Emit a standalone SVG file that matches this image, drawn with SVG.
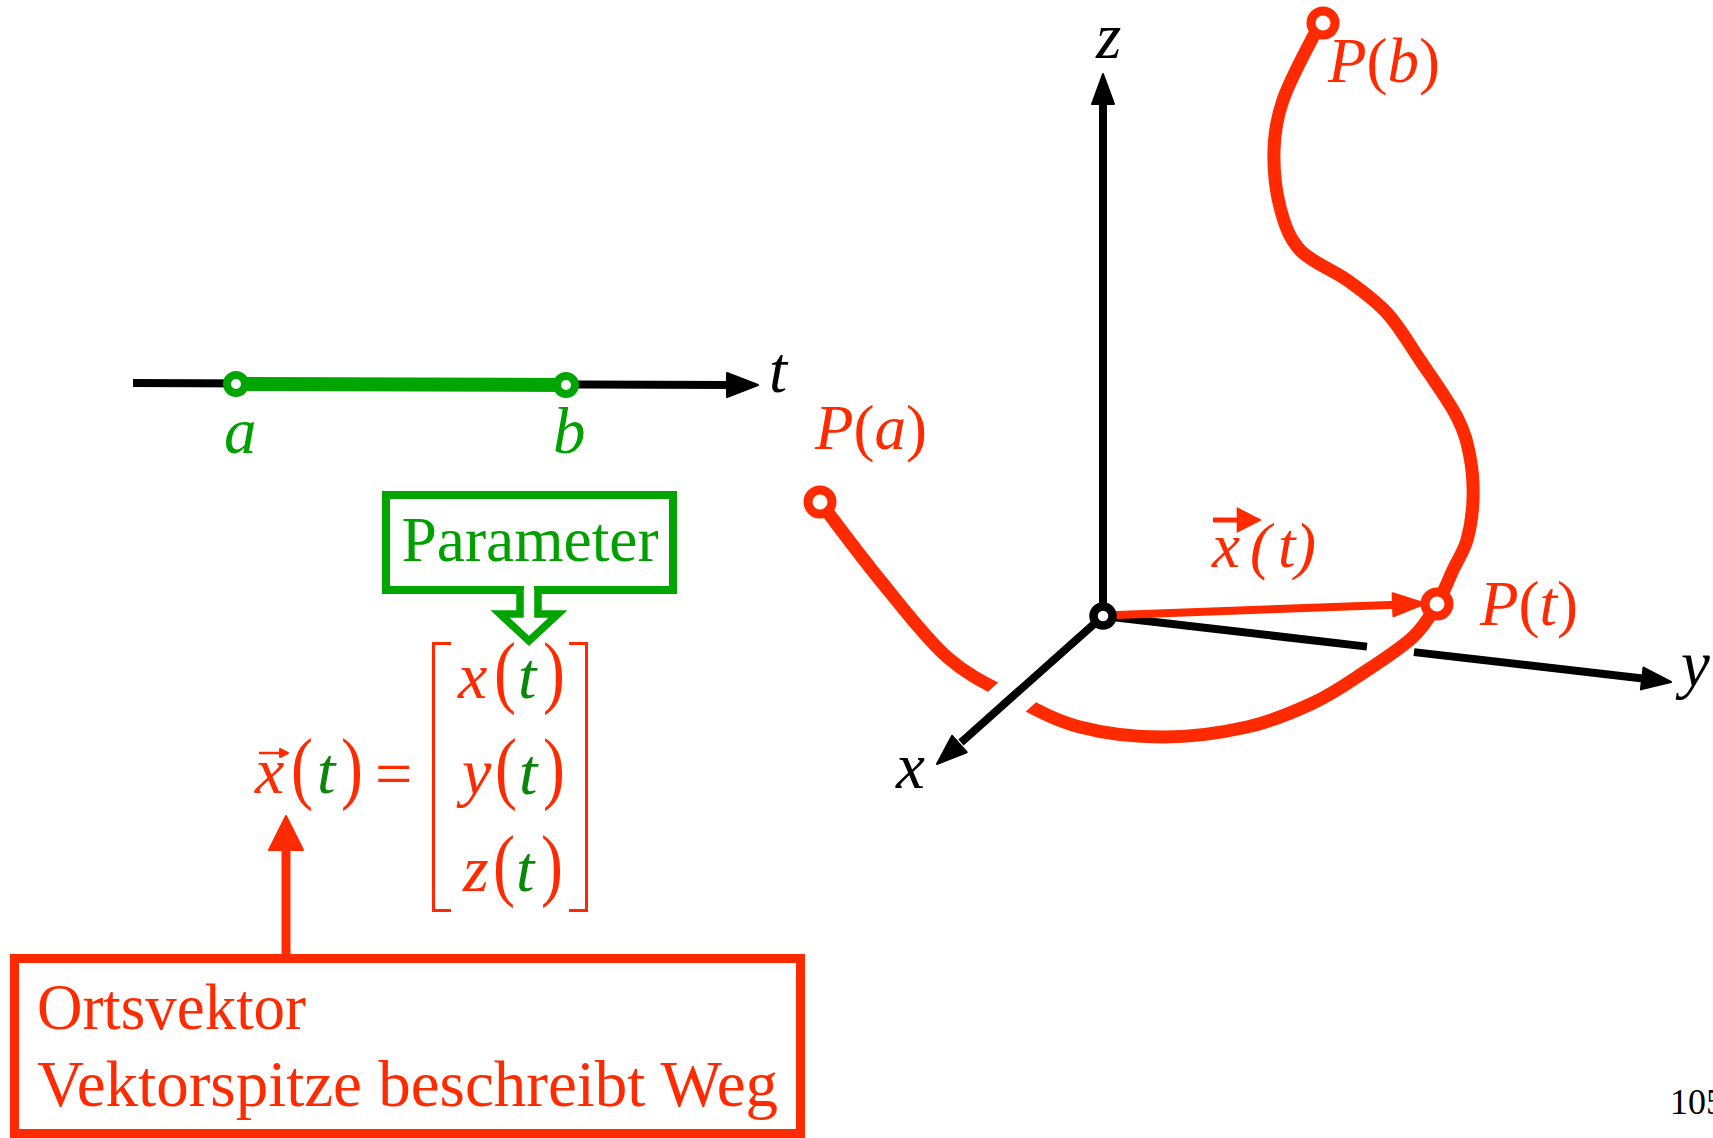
<svg xmlns="http://www.w3.org/2000/svg" width="1713" height="1138" viewBox="0 0 1713 1138">
<style>
text { font-family: "Liberation Serif", "Times New Roman", serif; }
.r { fill: #FF2A00; }
.g { fill: #00A000; }
.dg { fill: #0A870A; }
.k { fill: #000000; }
.i { font-style: italic; }
.ax { stroke: #000; stroke-width: 8; fill: none; }
.axh { fill: #000; stroke: #000; stroke-width: 2; stroke-linejoin: round; }
.rl { stroke: #FF2A00; fill: none; }
.rh { fill: #FF2A00; stroke: #FF2A00; stroke-width: 2; stroke-linejoin: round; }
.ring { fill: #fff; stroke: #FF2A00; stroke-width: 9; }
.gring { fill: #fff; stroke: #00A500; stroke-width: 8; }
</style>

<g id="connectors">
  <!-- t axis -->
  <line class="ax" x1="133" y1="383" x2="730" y2="385"/>
  <polygon class="axh" points="758,385 727,373 727,397"/>
  <!-- parameter range -->
  <line x1="236" y1="384" x2="566" y2="385" stroke="#00A500" stroke-width="14"/>
  <!-- z axis -->
  <line class="ax" x1="1103" y1="616" x2="1103" y2="100"/>
  <polygon class="axh" points="1103,74 1092,104 1114,104"/>
  <!-- y axis (broken where curve passes in front) -->
  <line class="ax" x1="1103" y1="616" x2="1367" y2="646.6"/>
  <line class="ax" x1="1414" y1="652.1" x2="1645" y2="678.8"/>
  <polygon class="axh" points="1671,682 1640.9,689.4 1643.5,667.6"/>
  <!-- space curve -->
  <path class="rl" stroke-width="13" d="M820,502 C830,515 858.8,554.2 880,580 C901.2,605.8 925,637.5 947,657 C969,676.5 989.8,685.3 1012,697 C1034.2,708.7 1054.8,720.3 1080,727 C1105.2,733.7 1135.2,737 1163,737 C1190.8,737 1222,732.7 1247,727 C1272,721.3 1293.7,712 1313,703 C1332.3,694 1346.3,684 1363,673 C1379.7,662 1400.7,648.5 1413,637 C1425.3,625.5 1430.3,615.2 1437,604 C1443.7,592.8 1448,580.7 1453,570 C1458,559.3 1463.7,551.7 1467,540 C1470.3,528.3 1472.5,513.8 1473,500 C1473.5,486.2 1472.7,470.8 1470,457 C1467.3,443.2 1465.3,433.2 1457,417 C1448.7,400.8 1431.7,377.3 1420,360 C1408.3,342.7 1399.2,326.3 1387,313 C1374.8,299.7 1361.5,290.5 1347,280 C1332.5,269.5 1311.2,262.2 1300,250 C1288.8,237.8 1284.3,223.7 1280,207 C1275.7,190.3 1273.5,167.8 1274,150 C1274.5,132.2 1276.5,118.8 1283,100 C1289.5,81.2 1306.3,49.8 1313,37 L1323,23"/>
  <!-- gap in curve behind x axis -->
  <line x1="1028" y1="682.7" x2="996" y2="711.3" stroke="#fff" stroke-width="40"/>
  <!-- x axis -->
  <line class="ax" x1="1103" y1="616" x2="961" y2="742.5"/>
  <polygon class="axh" points="937,764 952.1,735.8 966.7,752.2"/>
  <!-- position vector -->
  <line class="rl" stroke-width="8" x1="1110" y1="615.3" x2="1396" y2="604.7"/>
  <polygon class="rh" points="1425,603.5 1392.6,593.2 1393.4,616.2"/>
  <!-- arrow from Ortsvektor box to x(t) -->
  <line class="rl" stroke-width="9" x1="286" y1="956" x2="286" y2="848"/>
  <polygon class="rh" points="286,816 269,850 303,850"/>
</g>

<g id="node-t-points">
  <circle class="gring" cx="236" cy="384" r="9"/>
  <circle class="gring" cx="566" cy="385" r="9"/>
  <text class="g i" x="224" y="453" font-size="65">a</text>
  <text class="g i" x="553" y="453" font-size="65">b</text>
  <text class="k i" x="769" y="392" font-size="65">t</text>
</g>

<g id="node-parameter">
  <rect x="386" y="495" width="287" height="95" fill="none" stroke="#00A500" stroke-width="8"/>
  <rect x="524" y="584" width="10" height="12" fill="#fff"/>
  <path d="M520,590 V614 H500 L529,641 L558,614 H538 V590" fill="#fff" stroke="#00A500" stroke-width="7.5" stroke-linejoin="miter"/>
  <text class="g" x="530" y="561" font-size="64" text-anchor="middle" textLength="257" lengthAdjust="spacingAndGlyphs">Parameter</text>
</g>

<g id="node-vector-equation">
  <!-- left side -->
  <text class="r i" x="255" y="793" font-size="66">x</text>
  <line x1="259" y1="753" x2="282" y2="753" stroke="#FF2A00" stroke-width="2.5"/>
  <polygon class="rh" stroke-width="1" points="288,753 280,749 280,757"/>
  <text class="r" font-size="66" transform="translate(291,794) scale(1,1.22)">(</text>
  <text class="dg i" x="317" y="793" font-size="66">t</text>
  <text class="r" font-size="66" transform="translate(341,794) scale(1,1.22)">)</text>
  <text class="r" x="375" y="796" font-size="66">=</text>
  <!-- brackets -->
  <path d="M451,643.5 H433.5 V910.5 H451" fill="none" stroke="#FF2A00" stroke-width="3"/>
  <path d="M569,643.5 H586.5 V910.5 H569" fill="none" stroke="#FF2A00" stroke-width="3"/>
  <!-- row 1 -->
  <text class="r i" x="458" y="698" font-size="66">x</text>
  <text class="r" font-size="66" transform="translate(494,698) scale(1,1.22)">(</text>
  <text class="dg i" x="518" y="698" font-size="66">t</text>
  <text class="r" font-size="66" transform="translate(543,698) scale(1,1.22)">)</text>
  <!-- row 2 -->
  <text class="r i" x="462" y="794" font-size="66">y</text>
  <text class="r" font-size="66" transform="translate(495,794) scale(1,1.22)">(</text>
  <text class="dg i" x="519" y="794" font-size="66">t</text>
  <text class="r" font-size="66" transform="translate(543,794) scale(1,1.22)">)</text>
  <!-- row 3 -->
  <text class="r i" x="463" y="891" font-size="66">z</text>
  <text class="r" font-size="66" transform="translate(493,891) scale(1,1.22)">(</text>
  <text class="dg i" x="516" y="891" font-size="66">t</text>
  <text class="r" font-size="66" transform="translate(541,891) scale(1,1.22)">)</text>
</g>

<g id="node-ortsvektor">
  <rect x="14.5" y="958.5" width="786" height="175" fill="none" stroke="#FF2A00" stroke-width="9"/>
  <text class="r" x="37" y="1029" font-size="65" textLength="269" lengthAdjust="spacingAndGlyphs">Ortsvektor</text>
  <text class="r" x="37" y="1106" font-size="65" textLength="741" lengthAdjust="spacingAndGlyphs">Vektorspitze beschreibt Weg</text>
</g>

<g id="node-axes-labels">
  <text class="k i" x="1096" y="58" font-size="65">z</text>
  <text class="k i" x="896" y="788" font-size="65">x</text>
  <text class="k i" x="1681" y="686" font-size="65">y</text>
</g>

<g id="node-origin">
  <circle cx="1103" cy="616" r="9.5" fill="#fff" stroke="#000" stroke-width="8.5"/>
</g>

<g id="node-Pa">
  <circle class="ring" cx="820" cy="502" r="12"/>
  <text class="r" x="815" y="449" font-size="63"><tspan class="i">P</tspan>(<tspan class="i">a</tspan>)</text>
</g>

<g id="node-Pb">
  <circle class="ring" cx="1323" cy="23" r="12"/>
  <text class="r" x="1328" y="82" font-size="63"><tspan class="i">P</tspan>(<tspan class="i">b</tspan>)</text>
</g>

<g id="node-Pt">
  <circle class="ring" cx="1437" cy="604" r="12"/>
  <text class="r" x="1480" y="625" font-size="63"><tspan class="i">P</tspan>(<tspan class="i">t</tspan>)</text>
</g>

<g id="node-vector-label">
  <line x1="1213" y1="520" x2="1238" y2="520" stroke="#FF2A00" stroke-width="5"/>
  <polygon fill="#FF2A00" points="1236.7,507 1262,520 1236.7,533"/>
  <text class="r i" x="1212" y="567" font-size="63">x</text>
  <text class="r i" x="1250" y="567" font-size="63">(</text>
  <text class="r i" x="1278" y="567" font-size="63">t</text>
  <text class="r i" x="1295" y="567" font-size="63">)</text>
</g>

<text class="k" x="1670" y="1114" font-size="36">105</text>
</svg>
